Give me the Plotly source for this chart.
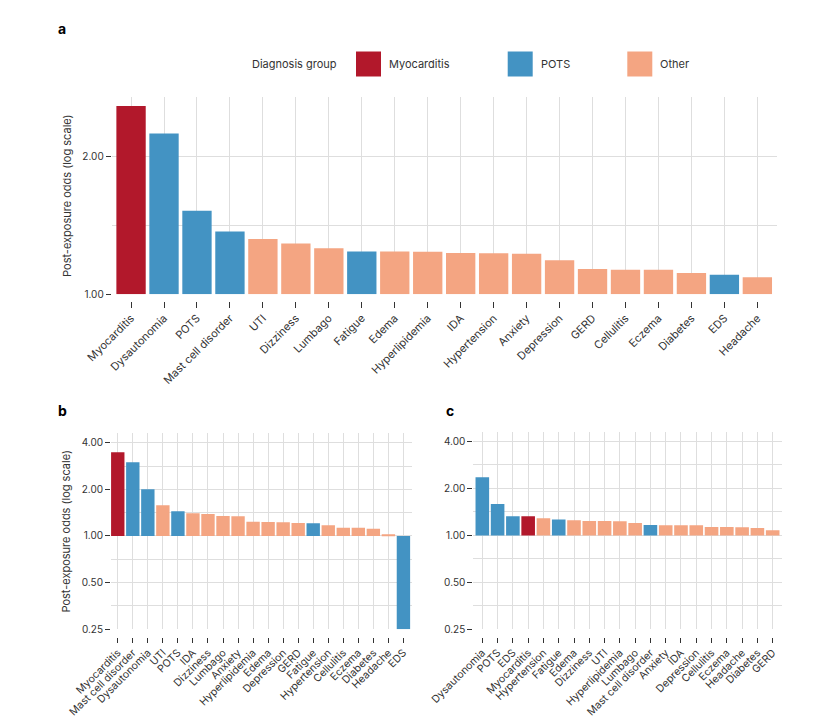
import plotly.graph_objects as go

# Colours for each diagnosis group (RdBu-style)
group_colors = {"Myocarditis": "#B2182B", "POTS": "#4393C3", "Other": "#F4A582"}

pots_group = ["Dysautonomia", "POTS", "Mast cell disorder", "Fatigue", "EDS"]

# Panel a
a_labels = ["Myocarditis", "Dysautonomia", "POTS", "Mast cell disorder", "UTI", "Dizziness",
            "Lumbago", "Fatigue", "Edema", "Hyperlipidemia", "IDA", "Hypertension", "Anxiety",
            "Depression", "GERD", "Cellulitis", "Eczema", "Diabetes", "EDS", "Headache"]
a_odds = [2.57, 2.24, 1.52, 1.37, 1.32, 1.29, 1.26, 1.24, 1.24, 1.238, 1.23, 1.228, 1.226,
          1.186, 1.135, 1.131, 1.131, 1.113, 1.103, 1.089]

# Panel b
b_labels = ["Myocarditis", "Mast cell disorder", "Dysautonomia", "UTI", "POTS", "IDA", "Dizziness",
            "Lumbago", "Anxiety", "Hyperlipidemia", "Edema", "Depression", "GERD", "Fatigue",
            "Hypertension", "Cellulitis", "Eczema", "Diabetes", "Headache", "EDS"]
b_odds = [3.47, 2.99, 2.00, 1.577, 1.443, 1.40, 1.386, 1.346, 1.339, 1.237, 1.231, 1.225, 1.213,
          1.207, 1.172, 1.131, 1.131, 1.115, 1.025, 0.25]

# Panel c
c_labels = ["Dysautonomia", "POTS", "EDS", "Myocarditis", "Hypertension", "Fatigue", "Edema",
            "Dizziness", "UTI", "Hyperlipidemia", "Lumbago", "Mast cell disorder", "Anxiety", "IDA",
            "Depression", "Cellulitis", "Eczema", "Headache", "Diabetes", "GERD"]
c_odds = [2.36, 1.59, 1.325, 1.325, 1.286, 1.262, 1.249, 1.236, 1.236, 1.23, 1.20, 1.165, 1.16,
          1.16, 1.16, 1.131, 1.131, 1.126, 1.115, 1.077]

major_ticks = [0.25, 0.5, 1, 2, 4]
major_text = ["0.25", "0.50", "1.00", "2.00", "4.00"]
minor_ticks = [0.354, 0.707, 1.414, 2.828]


def group_of(name):
    if name == "Myocarditis":
        return "Myocarditis"
    if name in pots_group:
        return "POTS"
    return "Other"


FONT = "Inter, Liberation Sans, sans-serif"
TXT = "#333333"
GRID = "#DEDEDE"

# page has an 8px body margin, so the figure is a bit smaller than the window
OFF = 8
W, H = 822 - 2 * OFF, 727 - 2 * OFF


def fx(px):
    return (px - OFF) / W


def fy(px):
    return 1 - (px - OFF) / H


fig = go.Figure()

panels = [("", a_labels, a_odds), ("2", b_labels, b_odds), ("3", c_labels, c_odds)]
for suffix, labels, odds in panels:
    fig.add_trace(go.Bar(
        x=labels,
        y=[v - 1 for v in odds],
        base=1,
        marker=dict(color=[group_colors[group_of(n)] for n in labels], line=dict(width=0)),
        xaxis="x" + suffix,
        yaxis="y" + suffix,
        showlegend=False,
        hovertext=[f"{v:.2f}" for v in odds],
    ))


def xaxis_style(domain, anchor, pos, n, left, right, size, tlen):
    # ticks sit a few px below the panel, so the axis floats just under it
    return dict(
        domain=domain, anchor="free", overlaying=None, position=pos, type="category",
        range=[-left, n - 1 + right],
        showgrid=True, gridcolor=GRID, gridwidth=1.3,
        ticks="outside", ticklen=tlen, tickcolor=TXT, tickwidth=1,
        tickangle=-45, tickfont=dict(size=size, color=TXT, family=FONT),
        showline=False, zeroline=False, automargin=False,
    )


def yaxis_style(domain, anchor, rng, tickvals, ticktext, minor, title):
    return dict(
        domain=domain, anchor=anchor, type="log", range=rng,
        tickvals=tickvals, ticktext=ticktext,
        showgrid=True, gridcolor=GRID, gridwidth=1,
        minor=dict(tickvals=minor, showgrid=True, gridcolor=GRID, gridwidth=1, ticks=""),
        ticks="outside", ticklen=5, tickcolor=TXT, tickwidth=1,
        tickfont=dict(size=10, color=TXT, family=FONT),
        title=dict(text=title, font=dict(size=11, color=TXT, family=FONT), standoff=8),
        showline=False, zeroline=False, automargin=False,
    )


fig.update_layout(
    width=W, height=H,
    margin=dict(l=0, r=0, t=0, b=0),
    paper_bgcolor="white", plot_bgcolor="white",
    bargap=0.11,
    font=dict(family=FONT, color=TXT),
    xaxis=xaxis_style([fx(111.7), fx(776.7)], "y", fy(300.5), len(a_labels), 0.587, 0.587, 11, 6),
    yaxis=yaxis_style([fy(294.3), fy(97)], "x", [0, 0.4296], [1, 2], ["1.00", "2.00"],
                      [1.414], "Post-exposure odds (log scale)"),
    xaxis2=xaxis_style([fx(111), fx(411.7)], "y2", fy(636.5), len(b_labels), 0.45, 0.55, 10.5, 5),
    yaxis2=yaxis_style([fy(629.3), fy(433.3)], "x2", [-0.602, 0.6625], major_ticks,
                       major_text, minor_ticks, "Post-exposure odds (log scale)"),
    xaxis3=xaxis_style([fx(473.3), fx(781.7)], "y3", fy(636.5), len(c_labels), 0.59, 0.59, 10.5, 5),
    yaxis3=yaxis_style([fy(629.3), fy(431.7)], "x3", [-0.602, 0.6645], major_ticks,
                       major_text, minor_ticks, ""),
)

# panel letters
for letter, px_x, px_y in [("a", 56, 28), ("b", 56, 410), ("c", 444, 410)]:
    fig.add_annotation(x=fx(px_x), y=fy(px_y), xref="paper", yref="paper",
                       text=f"<b>{letter}</b>", showarrow=False, xanchor="left", yanchor="middle",
                       font=dict(size=14, color="black", family=FONT))

# legend drawn as squares + labels
fig.add_annotation(x=fx(250), y=fy(64), xref="paper", yref="paper", text="Diagnosis group",
                   showarrow=False, xanchor="left", yanchor="middle",
                   font=dict(size=11, color=TXT, family=FONT))
for name, sq_x in [("Myocarditis", 356), ("POTS", 507.7), ("Other", 627.3)]:
    fig.add_shape(type="rect", xref="paper", yref="paper",
                  x0=fx(sq_x), x1=fx(sq_x + 25), y0=fy(76.5), y1=fy(51.5),
                  fillcolor=group_colors[name], line=dict(width=0))
    fig.add_annotation(x=fx(sq_x + 31), y=fy(64), xref="paper", yref="paper", text=name,
                       showarrow=False, xanchor="left", yanchor="middle",
                       font=dict(size=11, color=TXT, family=FONT))

fig.write_html("out.html")
